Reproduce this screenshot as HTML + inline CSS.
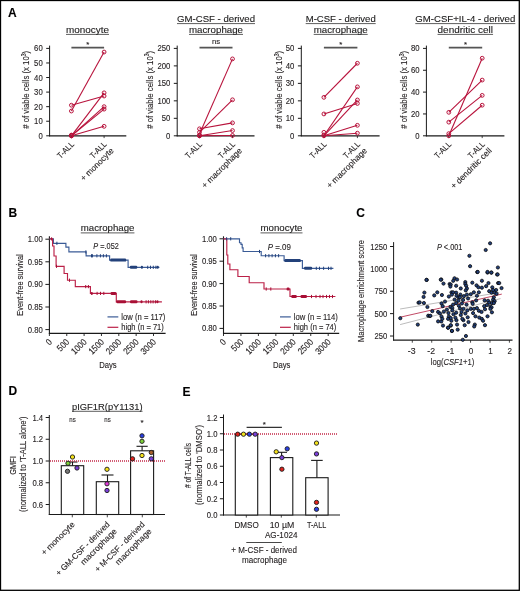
<!DOCTYPE html>
<html><head><meta charset="utf-8"><style>
html,body{margin:0;padding:0;background:#fff;width:520px;height:591px;overflow:hidden}
svg{display:block;will-change:transform}
text{font-family:"Liberation Sans", sans-serif;stroke:#231f20;stroke-width:0.12px}
</style></head><body>
<svg width="520" height="591" viewBox="0 0 520 591">
<rect width="520" height="591" fill="#fff"/>
<rect x="0.5" y="0.5" width="518.8" height="589.8" fill="none" stroke="#000" stroke-width="1.3"/>
<text x="8.00" y="16.80" font-size="12" text-anchor="start" fill="#000" font-weight="bold">A</text>
<text x="8.60" y="216.90" font-size="12" text-anchor="start" fill="#000" font-weight="bold">B</text>
<text x="356.30" y="216.90" font-size="12" text-anchor="start" fill="#000" font-weight="bold">C</text>
<text x="8.40" y="395.10" font-size="12" text-anchor="start" fill="#000" font-weight="bold">D</text>
<text x="182.50" y="395.50" font-size="12" text-anchor="start" fill="#000" font-weight="bold">E</text>
<line x1="49.60" y1="45.60" x2="49.60" y2="136.30" stroke="#1a1a1a" stroke-width="1"/>
<line x1="49.10" y1="135.80" x2="126.30" y2="135.80" stroke="#1a1a1a" stroke-width="1.35"/>
<line x1="46.20" y1="135.80" x2="49.60" y2="135.80" stroke="#1a1a1a" stroke-width="1"/>
<text x="42.70" y="138.80" font-size="8.4" text-anchor="end" fill="#231f20" textLength="4.3" lengthAdjust="spacingAndGlyphs">0</text>
<line x1="46.20" y1="121.23" x2="49.60" y2="121.23" stroke="#1a1a1a" stroke-width="1"/>
<text x="42.70" y="124.23" font-size="8.4" text-anchor="end" fill="#231f20" textLength="8.6" lengthAdjust="spacingAndGlyphs">10</text>
<line x1="46.20" y1="106.67" x2="49.60" y2="106.67" stroke="#1a1a1a" stroke-width="1"/>
<text x="42.70" y="109.67" font-size="8.4" text-anchor="end" fill="#231f20" textLength="8.6" lengthAdjust="spacingAndGlyphs">20</text>
<line x1="46.20" y1="92.10" x2="49.60" y2="92.10" stroke="#1a1a1a" stroke-width="1"/>
<text x="42.70" y="95.10" font-size="8.4" text-anchor="end" fill="#231f20" textLength="8.6" lengthAdjust="spacingAndGlyphs">30</text>
<line x1="46.20" y1="77.53" x2="49.60" y2="77.53" stroke="#1a1a1a" stroke-width="1"/>
<text x="42.70" y="80.53" font-size="8.4" text-anchor="end" fill="#231f20" textLength="8.6" lengthAdjust="spacingAndGlyphs">40</text>
<line x1="46.20" y1="62.97" x2="49.60" y2="62.97" stroke="#1a1a1a" stroke-width="1"/>
<text x="42.70" y="65.97" font-size="8.4" text-anchor="end" fill="#231f20" textLength="8.6" lengthAdjust="spacingAndGlyphs">50</text>
<line x1="46.20" y1="48.40" x2="49.60" y2="48.40" stroke="#1a1a1a" stroke-width="1"/>
<text x="42.70" y="51.40" font-size="8.4" text-anchor="end" fill="#231f20" textLength="8.6" lengthAdjust="spacingAndGlyphs">60</text>
<line x1="71.40" y1="135.80" x2="71.40" y2="138.10" stroke="#1a1a1a" stroke-width="0.8"/>
<line x1="104.10" y1="135.80" x2="104.10" y2="138.10" stroke="#1a1a1a" stroke-width="0.8"/>
<text transform="translate(29.10 89.80) rotate(-90)" font-size="9.8" text-anchor="middle" fill="#231f20" textLength="78" lengthAdjust="spacingAndGlyphs"># of viable cells (x 10<tspan font-size="6.5" dy="-3.5">3</tspan><tspan dy="3.5">)</tspan></text>
<line x1="71.40" y1="47.60" x2="104.10" y2="47.60" stroke="#555" stroke-width="1.7"/>
<text x="87.75" y="47.20" font-size="7.8" text-anchor="middle" fill="#231f20">*</text>
<line x1="71.40" y1="111.04" x2="104.10" y2="52.04" stroke="#b8133c" stroke-width="1.1"/>
<line x1="71.40" y1="105.21" x2="104.10" y2="96.03" stroke="#b8133c" stroke-width="1.1"/>
<line x1="71.40" y1="135.80" x2="104.10" y2="92.83" stroke="#b8133c" stroke-width="1.1"/>
<line x1="71.40" y1="135.80" x2="104.10" y2="106.67" stroke="#b8133c" stroke-width="1.1"/>
<line x1="71.40" y1="135.80" x2="104.10" y2="109.14" stroke="#b8133c" stroke-width="1.1"/>
<line x1="71.40" y1="135.80" x2="104.10" y2="126.33" stroke="#b8133c" stroke-width="1.1"/>
<circle cx="71.40" cy="105.21" r="1.9" fill="none" stroke="#b8133c" stroke-width="1"/>
<circle cx="71.40" cy="111.04" r="1.9" fill="none" stroke="#b8133c" stroke-width="1"/>
<circle cx="71.40" cy="135.36" r="1.9" fill="none" stroke="#b8133c" stroke-width="1"/>
<circle cx="71.40" cy="135.80" r="1.9" fill="none" stroke="#b8133c" stroke-width="1"/>
<circle cx="71.40" cy="135.80" r="1.9" fill="none" stroke="#b8133c" stroke-width="1"/>
<circle cx="71.40" cy="135.80" r="1.9" fill="none" stroke="#b8133c" stroke-width="1"/>
<circle cx="71.40" cy="135.07" r="1.9" fill="none" stroke="#b8133c" stroke-width="1"/>
<circle cx="104.10" cy="52.04" r="1.9" fill="none" stroke="#b8133c" stroke-width="1"/>
<circle cx="104.10" cy="92.83" r="1.9" fill="none" stroke="#b8133c" stroke-width="1"/>
<circle cx="104.10" cy="96.03" r="1.9" fill="none" stroke="#b8133c" stroke-width="1"/>
<circle cx="104.10" cy="106.67" r="1.9" fill="none" stroke="#b8133c" stroke-width="1"/>
<circle cx="104.10" cy="109.14" r="1.9" fill="none" stroke="#b8133c" stroke-width="1"/>
<circle cx="104.10" cy="126.33" r="1.9" fill="none" stroke="#b8133c" stroke-width="1"/>
<text x="74.60" y="144.90" font-size="8.4" text-anchor="end" fill="#231f20" textLength="20" lengthAdjust="spacingAndGlyphs" transform="rotate(-45 74.60 144.90)">T-ALL</text>
<text x="107.30" y="144.90" font-size="8.4" text-anchor="end" fill="#231f20" textLength="20" lengthAdjust="spacingAndGlyphs" transform="rotate(-45 107.30 144.90)">T-ALL</text>
<text x="114.18" y="151.18" font-size="8.4" text-anchor="end" fill="#231f20" textLength="43" lengthAdjust="spacingAndGlyphs" transform="rotate(-45 114.18 151.18)">+ monocyte</text>
<text x="87.50" y="32.80" font-size="9.8" text-anchor="middle" fill="#1a1a1a" textLength="43" lengthAdjust="spacingAndGlyphs">monocyte</text>
<line x1="66.00" y1="34.40" x2="109.00" y2="34.40" stroke="#333" stroke-width="0.8"/>
<line x1="177.20" y1="45.60" x2="177.20" y2="136.30" stroke="#1a1a1a" stroke-width="1"/>
<line x1="176.70" y1="135.80" x2="254.50" y2="135.80" stroke="#1a1a1a" stroke-width="1.35"/>
<line x1="173.80" y1="135.80" x2="177.20" y2="135.80" stroke="#1a1a1a" stroke-width="1"/>
<text x="170.30" y="138.80" font-size="8.4" text-anchor="end" fill="#231f20" textLength="4.3" lengthAdjust="spacingAndGlyphs">0</text>
<line x1="173.80" y1="118.32" x2="177.20" y2="118.32" stroke="#1a1a1a" stroke-width="1"/>
<text x="170.30" y="121.32" font-size="8.4" text-anchor="end" fill="#231f20" textLength="8.6" lengthAdjust="spacingAndGlyphs">50</text>
<line x1="173.80" y1="100.84" x2="177.20" y2="100.84" stroke="#1a1a1a" stroke-width="1"/>
<text x="170.30" y="103.84" font-size="8.4" text-anchor="end" fill="#231f20" textLength="12.9" lengthAdjust="spacingAndGlyphs">100</text>
<line x1="173.80" y1="83.36" x2="177.20" y2="83.36" stroke="#1a1a1a" stroke-width="1"/>
<text x="170.30" y="86.36" font-size="8.4" text-anchor="end" fill="#231f20" textLength="12.9" lengthAdjust="spacingAndGlyphs">150</text>
<line x1="173.80" y1="65.88" x2="177.20" y2="65.88" stroke="#1a1a1a" stroke-width="1"/>
<text x="170.30" y="68.88" font-size="8.4" text-anchor="end" fill="#231f20" textLength="12.9" lengthAdjust="spacingAndGlyphs">200</text>
<line x1="173.80" y1="48.40" x2="177.20" y2="48.40" stroke="#1a1a1a" stroke-width="1"/>
<text x="170.30" y="51.40" font-size="8.4" text-anchor="end" fill="#231f20" textLength="12.9" lengthAdjust="spacingAndGlyphs">250</text>
<line x1="199.50" y1="135.80" x2="199.50" y2="138.10" stroke="#1a1a1a" stroke-width="0.8"/>
<line x1="232.50" y1="135.80" x2="232.50" y2="138.10" stroke="#1a1a1a" stroke-width="0.8"/>
<text transform="translate(152.70 89.80) rotate(-90)" font-size="9.8" text-anchor="middle" fill="#231f20" textLength="78" lengthAdjust="spacingAndGlyphs"># of viable cells (x 10<tspan font-size="6.5" dy="-3.5">3</tspan><tspan dy="3.5">)</tspan></text>
<line x1="199.50" y1="47.60" x2="232.50" y2="47.60" stroke="#555" stroke-width="1.7"/>
<text x="216.00" y="44.40" font-size="7.8" text-anchor="middle" fill="#231f20">ns</text>
<line x1="199.50" y1="134.05" x2="232.50" y2="58.89" stroke="#b8133c" stroke-width="1.1"/>
<line x1="199.50" y1="132.30" x2="232.50" y2="99.79" stroke="#b8133c" stroke-width="1.1"/>
<line x1="199.50" y1="128.81" x2="232.50" y2="122.86" stroke="#b8133c" stroke-width="1.1"/>
<line x1="199.50" y1="135.80" x2="232.50" y2="130.56" stroke="#b8133c" stroke-width="1.1"/>
<line x1="199.50" y1="135.80" x2="232.50" y2="135.45" stroke="#b8133c" stroke-width="1.1"/>
<circle cx="199.50" cy="128.81" r="1.9" fill="none" stroke="#b8133c" stroke-width="1"/>
<circle cx="199.50" cy="132.30" r="1.9" fill="none" stroke="#b8133c" stroke-width="1"/>
<circle cx="199.50" cy="135.10" r="1.9" fill="none" stroke="#b8133c" stroke-width="1"/>
<circle cx="199.50" cy="135.80" r="1.9" fill="none" stroke="#b8133c" stroke-width="1"/>
<circle cx="199.50" cy="135.80" r="1.9" fill="none" stroke="#b8133c" stroke-width="1"/>
<circle cx="232.50" cy="58.89" r="1.9" fill="none" stroke="#b8133c" stroke-width="1"/>
<circle cx="232.50" cy="99.79" r="1.9" fill="none" stroke="#b8133c" stroke-width="1"/>
<circle cx="232.50" cy="122.86" r="1.9" fill="none" stroke="#b8133c" stroke-width="1"/>
<circle cx="232.50" cy="130.56" r="1.9" fill="none" stroke="#b8133c" stroke-width="1"/>
<circle cx="232.50" cy="135.45" r="1.9" fill="none" stroke="#b8133c" stroke-width="1"/>
<text x="202.70" y="144.90" font-size="8.4" text-anchor="end" fill="#231f20" textLength="20" lengthAdjust="spacingAndGlyphs" transform="rotate(-45 202.70 144.90)">T-ALL</text>
<text x="235.70" y="144.90" font-size="8.4" text-anchor="end" fill="#231f20" textLength="20" lengthAdjust="spacingAndGlyphs" transform="rotate(-45 235.70 144.90)">T-ALL</text>
<text x="242.58" y="151.18" font-size="8.4" text-anchor="end" fill="#231f20" textLength="53" lengthAdjust="spacingAndGlyphs" transform="rotate(-45 242.58 151.18)">+ macrophage</text>
<text x="216.00" y="22.00" font-size="9.8" text-anchor="middle" fill="#1a1a1a" textLength="78" lengthAdjust="spacingAndGlyphs">GM-CSF - derived</text>
<line x1="177.00" y1="23.60" x2="255.00" y2="23.60" stroke="#333" stroke-width="0.8"/>
<text x="216.00" y="32.80" font-size="9.8" text-anchor="middle" fill="#1a1a1a" textLength="54" lengthAdjust="spacingAndGlyphs">macrophage</text>
<line x1="189.00" y1="34.40" x2="243.00" y2="34.40" stroke="#333" stroke-width="0.8"/>
<line x1="301.30" y1="45.60" x2="301.30" y2="136.30" stroke="#1a1a1a" stroke-width="1"/>
<line x1="300.80" y1="135.80" x2="379.60" y2="135.80" stroke="#1a1a1a" stroke-width="1.35"/>
<line x1="297.90" y1="135.80" x2="301.30" y2="135.80" stroke="#1a1a1a" stroke-width="1"/>
<text x="294.40" y="138.80" font-size="8.4" text-anchor="end" fill="#231f20" textLength="4.3" lengthAdjust="spacingAndGlyphs">0</text>
<line x1="297.90" y1="118.32" x2="301.30" y2="118.32" stroke="#1a1a1a" stroke-width="1"/>
<text x="294.40" y="121.32" font-size="8.4" text-anchor="end" fill="#231f20" textLength="8.6" lengthAdjust="spacingAndGlyphs">10</text>
<line x1="297.90" y1="100.84" x2="301.30" y2="100.84" stroke="#1a1a1a" stroke-width="1"/>
<text x="294.40" y="103.84" font-size="8.4" text-anchor="end" fill="#231f20" textLength="8.6" lengthAdjust="spacingAndGlyphs">20</text>
<line x1="297.90" y1="83.36" x2="301.30" y2="83.36" stroke="#1a1a1a" stroke-width="1"/>
<text x="294.40" y="86.36" font-size="8.4" text-anchor="end" fill="#231f20" textLength="8.6" lengthAdjust="spacingAndGlyphs">30</text>
<line x1="297.90" y1="65.88" x2="301.30" y2="65.88" stroke="#1a1a1a" stroke-width="1"/>
<text x="294.40" y="68.88" font-size="8.4" text-anchor="end" fill="#231f20" textLength="8.6" lengthAdjust="spacingAndGlyphs">40</text>
<line x1="297.90" y1="48.40" x2="301.30" y2="48.40" stroke="#1a1a1a" stroke-width="1"/>
<text x="294.40" y="51.40" font-size="8.4" text-anchor="end" fill="#231f20" textLength="8.6" lengthAdjust="spacingAndGlyphs">50</text>
<line x1="323.90" y1="135.80" x2="323.90" y2="138.10" stroke="#1a1a1a" stroke-width="0.8"/>
<line x1="357.40" y1="135.80" x2="357.40" y2="138.10" stroke="#1a1a1a" stroke-width="0.8"/>
<text transform="translate(282.10 89.80) rotate(-90)" font-size="9.8" text-anchor="middle" fill="#231f20" textLength="78" lengthAdjust="spacingAndGlyphs"># of viable cells (x 10<tspan font-size="6.5" dy="-3.5">3</tspan><tspan dy="3.5">)</tspan></text>
<line x1="323.90" y1="47.60" x2="357.40" y2="47.60" stroke="#555" stroke-width="1.7"/>
<text x="340.65" y="47.20" font-size="7.8" text-anchor="middle" fill="#231f20">*</text>
<line x1="323.90" y1="97.34" x2="357.40" y2="63.26" stroke="#b8133c" stroke-width="1.1"/>
<line x1="323.90" y1="113.95" x2="357.40" y2="103.46" stroke="#b8133c" stroke-width="1.1"/>
<line x1="323.90" y1="135.80" x2="357.40" y2="86.86" stroke="#b8133c" stroke-width="1.1"/>
<line x1="323.90" y1="135.80" x2="357.40" y2="99.97" stroke="#b8133c" stroke-width="1.1"/>
<line x1="323.90" y1="135.80" x2="357.40" y2="125.31" stroke="#b8133c" stroke-width="1.1"/>
<line x1="323.90" y1="135.80" x2="357.40" y2="133.18" stroke="#b8133c" stroke-width="1.1"/>
<circle cx="323.90" cy="97.34" r="1.9" fill="none" stroke="#b8133c" stroke-width="1"/>
<circle cx="323.90" cy="113.95" r="1.9" fill="none" stroke="#b8133c" stroke-width="1"/>
<circle cx="323.90" cy="132.30" r="1.9" fill="none" stroke="#b8133c" stroke-width="1"/>
<circle cx="323.90" cy="134.93" r="1.9" fill="none" stroke="#b8133c" stroke-width="1"/>
<circle cx="323.90" cy="135.80" r="1.9" fill="none" stroke="#b8133c" stroke-width="1"/>
<circle cx="357.40" cy="63.26" r="1.9" fill="none" stroke="#b8133c" stroke-width="1"/>
<circle cx="357.40" cy="86.86" r="1.9" fill="none" stroke="#b8133c" stroke-width="1"/>
<circle cx="357.40" cy="99.97" r="1.9" fill="none" stroke="#b8133c" stroke-width="1"/>
<circle cx="357.40" cy="103.46" r="1.9" fill="none" stroke="#b8133c" stroke-width="1"/>
<circle cx="357.40" cy="125.31" r="1.9" fill="none" stroke="#b8133c" stroke-width="1"/>
<circle cx="357.40" cy="133.18" r="1.9" fill="none" stroke="#b8133c" stroke-width="1"/>
<text x="327.10" y="144.90" font-size="8.4" text-anchor="end" fill="#231f20" textLength="20" lengthAdjust="spacingAndGlyphs" transform="rotate(-45 327.10 144.90)">T-ALL</text>
<text x="360.60" y="144.90" font-size="8.4" text-anchor="end" fill="#231f20" textLength="20" lengthAdjust="spacingAndGlyphs" transform="rotate(-45 360.60 144.90)">T-ALL</text>
<text x="367.48" y="151.18" font-size="8.4" text-anchor="end" fill="#231f20" textLength="53" lengthAdjust="spacingAndGlyphs" transform="rotate(-45 367.48 151.18)">+ macrophage</text>
<text x="340.70" y="22.00" font-size="9.8" text-anchor="middle" fill="#1a1a1a" textLength="70" lengthAdjust="spacingAndGlyphs">M-CSF - derived</text>
<line x1="305.70" y1="23.60" x2="375.70" y2="23.60" stroke="#333" stroke-width="0.8"/>
<text x="340.70" y="32.80" font-size="9.8" text-anchor="middle" fill="#1a1a1a" textLength="54" lengthAdjust="spacingAndGlyphs">macrophage</text>
<line x1="313.70" y1="34.40" x2="367.70" y2="34.40" stroke="#333" stroke-width="0.8"/>
<line x1="426.40" y1="45.60" x2="426.40" y2="136.30" stroke="#1a1a1a" stroke-width="1"/>
<line x1="425.90" y1="135.80" x2="504.40" y2="135.80" stroke="#1a1a1a" stroke-width="1.35"/>
<line x1="423.00" y1="135.80" x2="426.40" y2="135.80" stroke="#1a1a1a" stroke-width="1"/>
<text x="419.50" y="138.80" font-size="8.4" text-anchor="end" fill="#231f20" textLength="4.3" lengthAdjust="spacingAndGlyphs">0</text>
<line x1="423.00" y1="113.95" x2="426.40" y2="113.95" stroke="#1a1a1a" stroke-width="1"/>
<text x="419.50" y="116.95" font-size="8.4" text-anchor="end" fill="#231f20" textLength="8.6" lengthAdjust="spacingAndGlyphs">20</text>
<line x1="423.00" y1="92.10" x2="426.40" y2="92.10" stroke="#1a1a1a" stroke-width="1"/>
<text x="419.50" y="95.10" font-size="8.4" text-anchor="end" fill="#231f20" textLength="8.6" lengthAdjust="spacingAndGlyphs">40</text>
<line x1="423.00" y1="70.25" x2="426.40" y2="70.25" stroke="#1a1a1a" stroke-width="1"/>
<text x="419.50" y="73.25" font-size="8.4" text-anchor="end" fill="#231f20" textLength="8.6" lengthAdjust="spacingAndGlyphs">60</text>
<line x1="423.00" y1="48.40" x2="426.40" y2="48.40" stroke="#1a1a1a" stroke-width="1"/>
<text x="419.50" y="51.40" font-size="8.4" text-anchor="end" fill="#231f20" textLength="8.6" lengthAdjust="spacingAndGlyphs">80</text>
<line x1="448.80" y1="135.80" x2="448.80" y2="138.10" stroke="#1a1a1a" stroke-width="0.8"/>
<line x1="482.20" y1="135.80" x2="482.20" y2="138.10" stroke="#1a1a1a" stroke-width="0.8"/>
<text transform="translate(407.30 89.80) rotate(-90)" font-size="9.8" text-anchor="middle" fill="#231f20" textLength="78" lengthAdjust="spacingAndGlyphs"># of viable cells (x 10<tspan font-size="6.5" dy="-3.5">3</tspan><tspan dy="3.5">)</tspan></text>
<line x1="448.80" y1="47.60" x2="482.20" y2="47.60" stroke="#555" stroke-width="1.7"/>
<text x="465.50" y="47.20" font-size="7.8" text-anchor="middle" fill="#231f20">*</text>
<line x1="448.80" y1="135.80" x2="482.20" y2="58.23" stroke="#b8133c" stroke-width="1.1"/>
<line x1="448.80" y1="112.31" x2="482.20" y2="80.08" stroke="#b8133c" stroke-width="1.1"/>
<line x1="448.80" y1="122.14" x2="482.20" y2="95.38" stroke="#b8133c" stroke-width="1.1"/>
<line x1="448.80" y1="133.62" x2="482.20" y2="105.21" stroke="#b8133c" stroke-width="1.1"/>
<circle cx="448.80" cy="112.31" r="1.9" fill="none" stroke="#b8133c" stroke-width="1"/>
<circle cx="448.80" cy="122.14" r="1.9" fill="none" stroke="#b8133c" stroke-width="1"/>
<circle cx="448.80" cy="133.62" r="1.9" fill="none" stroke="#b8133c" stroke-width="1"/>
<circle cx="448.80" cy="135.80" r="1.9" fill="none" stroke="#b8133c" stroke-width="1"/>
<circle cx="482.20" cy="58.23" r="1.9" fill="none" stroke="#b8133c" stroke-width="1"/>
<circle cx="482.20" cy="80.08" r="1.9" fill="none" stroke="#b8133c" stroke-width="1"/>
<circle cx="482.20" cy="95.38" r="1.9" fill="none" stroke="#b8133c" stroke-width="1"/>
<circle cx="482.20" cy="105.21" r="1.9" fill="none" stroke="#b8133c" stroke-width="1"/>
<text x="452.00" y="144.90" font-size="8.4" text-anchor="end" fill="#231f20" textLength="20" lengthAdjust="spacingAndGlyphs" transform="rotate(-45 452.00 144.90)">T-ALL</text>
<text x="485.40" y="144.90" font-size="8.4" text-anchor="end" fill="#231f20" textLength="20" lengthAdjust="spacingAndGlyphs" transform="rotate(-45 485.40 144.90)">T-ALL</text>
<text x="492.28" y="151.18" font-size="8.4" text-anchor="end" fill="#231f20" textLength="54" lengthAdjust="spacingAndGlyphs" transform="rotate(-45 492.28 151.18)">+ dendritic cell</text>
<text x="465.30" y="22.00" font-size="9.8" text-anchor="middle" fill="#1a1a1a" textLength="100" lengthAdjust="spacingAndGlyphs">GM-CSF+IL-4 - derived</text>
<line x1="415.30" y1="23.60" x2="515.30" y2="23.60" stroke="#333" stroke-width="0.8"/>
<text x="465.30" y="32.80" font-size="9.8" text-anchor="middle" fill="#1a1a1a" textLength="55.5" lengthAdjust="spacingAndGlyphs">dendritic cell</text>
<line x1="437.55" y1="34.40" x2="493.05" y2="34.40" stroke="#333" stroke-width="0.8"/>
<line x1="49.40" y1="236.30" x2="49.40" y2="333.90" stroke="#1a1a1a" stroke-width="1.1"/>
<line x1="48.90" y1="333.40" x2="165.60" y2="333.40" stroke="#1a1a1a" stroke-width="1.2"/>
<line x1="45.40" y1="239.20" x2="49.40" y2="239.20" stroke="#1a1a1a" stroke-width="1"/>
<text x="42.80" y="242.10" font-size="8.4" text-anchor="end" fill="#231f20" textLength="15.0" lengthAdjust="spacingAndGlyphs">1.00</text>
<line x1="45.40" y1="261.80" x2="49.40" y2="261.80" stroke="#1a1a1a" stroke-width="1"/>
<text x="42.80" y="264.70" font-size="8.4" text-anchor="end" fill="#231f20" textLength="15.0" lengthAdjust="spacingAndGlyphs">0.95</text>
<line x1="45.40" y1="284.40" x2="49.40" y2="284.40" stroke="#1a1a1a" stroke-width="1"/>
<text x="42.80" y="287.30" font-size="8.4" text-anchor="end" fill="#231f20" textLength="15.0" lengthAdjust="spacingAndGlyphs">0.90</text>
<line x1="45.40" y1="307.00" x2="49.40" y2="307.00" stroke="#1a1a1a" stroke-width="1"/>
<text x="42.80" y="309.90" font-size="8.4" text-anchor="end" fill="#231f20" textLength="15.0" lengthAdjust="spacingAndGlyphs">0.85</text>
<line x1="45.40" y1="329.60" x2="49.40" y2="329.60" stroke="#1a1a1a" stroke-width="1"/>
<text x="42.80" y="332.50" font-size="8.4" text-anchor="end" fill="#231f20" textLength="15.0" lengthAdjust="spacingAndGlyphs">0.80</text>
<line x1="49.40" y1="333.40" x2="49.40" y2="336.00" stroke="#1a1a1a" stroke-width="0.9"/>
<text x="52.60" y="342.60" font-size="9.2" text-anchor="end" fill="#231f20" textLength="4.4" lengthAdjust="spacingAndGlyphs" transform="rotate(-45 52.60 342.60)">0</text>
<line x1="66.75" y1="333.40" x2="66.75" y2="336.00" stroke="#1a1a1a" stroke-width="0.9"/>
<text x="69.95" y="342.60" font-size="9.2" text-anchor="end" fill="#231f20" textLength="13.2" lengthAdjust="spacingAndGlyphs" transform="rotate(-45 69.95 342.60)">500</text>
<line x1="84.10" y1="333.40" x2="84.10" y2="336.00" stroke="#1a1a1a" stroke-width="0.9"/>
<text x="87.30" y="342.60" font-size="9.2" text-anchor="end" fill="#231f20" textLength="17.6" lengthAdjust="spacingAndGlyphs" transform="rotate(-45 87.30 342.60)">1000</text>
<line x1="101.45" y1="333.40" x2="101.45" y2="336.00" stroke="#1a1a1a" stroke-width="0.9"/>
<text x="104.65" y="342.60" font-size="9.2" text-anchor="end" fill="#231f20" textLength="17.6" lengthAdjust="spacingAndGlyphs" transform="rotate(-45 104.65 342.60)">1500</text>
<line x1="118.80" y1="333.40" x2="118.80" y2="336.00" stroke="#1a1a1a" stroke-width="0.9"/>
<text x="122.00" y="342.60" font-size="9.2" text-anchor="end" fill="#231f20" textLength="17.6" lengthAdjust="spacingAndGlyphs" transform="rotate(-45 122.00 342.60)">2000</text>
<line x1="136.15" y1="333.40" x2="136.15" y2="336.00" stroke="#1a1a1a" stroke-width="0.9"/>
<text x="139.35" y="342.60" font-size="9.2" text-anchor="end" fill="#231f20" textLength="17.6" lengthAdjust="spacingAndGlyphs" transform="rotate(-45 139.35 342.60)">2500</text>
<line x1="153.50" y1="333.40" x2="153.50" y2="336.00" stroke="#1a1a1a" stroke-width="0.9"/>
<text x="156.70" y="342.60" font-size="9.2" text-anchor="end" fill="#231f20" textLength="17.6" lengthAdjust="spacingAndGlyphs" transform="rotate(-45 156.70 342.60)">3000</text>
<text x="107.90" y="367.60" font-size="8.8" text-anchor="middle" fill="#231f20" textLength="17.5" lengthAdjust="spacingAndGlyphs">Days</text>
<text transform="translate(22.80 285) rotate(-90)" font-size="9" text-anchor="middle" fill="#231f20" textLength="61.5" lengthAdjust="spacingAndGlyphs">Event-free survival</text>
<path d="M49.6,238.9 H53.4 V243.3 H65.9 V247.1 H68.9 V251.9 H86.1 V255.8 H109.6 V260.1 H128.1 V267.3 H159.4" fill="none" stroke="#3a5b96" stroke-width="1.15"/>
<path d="M49.6,238.9 H52.6 V246 H54 V256 H56.1 V266.3 H64.1 V273.5 H67.5 V280.2 H75.3 V286.6 H90.4 V293.4 H116.3 V301.8 H161.9" fill="none" stroke="#bb2047" stroke-width="1.15"/>
<rect x="56.40" y="241.70" width="1.0" height="3.2" fill="#23417a"/>
<rect x="85.40" y="250.30" width="1.0" height="3.2" fill="#23417a"/>
<rect x="91.00" y="254.20" width="1.0" height="3.2" fill="#23417a"/>
<rect x="91.90" y="254.20" width="1.0" height="3.2" fill="#23417a"/>
<rect x="96.40" y="254.20" width="1.0" height="3.2" fill="#23417a"/>
<rect x="99.90" y="254.20" width="1.0" height="3.2" fill="#23417a"/>
<rect x="102.90" y="254.20" width="1.0" height="3.2" fill="#23417a"/>
<rect x="105.90" y="254.20" width="1.0" height="3.2" fill="#23417a"/>
<rect x="110.20" y="258.60" width="16.00" height="3.0" rx="1.2" fill="#23417a"/>
<rect x="129.80" y="265.80" width="7.50" height="3.0" rx="1.2" fill="#23417a"/>
<rect x="140.80" y="265.80" width="2.20" height="3.0" rx="1.2" fill="#23417a"/>
<rect x="147.20" y="265.70" width="1.0" height="3.2" fill="#23417a"/>
<rect x="150.00" y="265.70" width="1.0" height="3.2" fill="#23417a"/>
<rect x="152.80" y="265.70" width="1.0" height="3.2" fill="#23417a"/>
<rect x="155.40" y="265.70" width="1.0" height="3.2" fill="#23417a"/>
<rect x="156.50" y="265.80" width="2.30" height="3.0" rx="1.2" fill="#23417a"/>
<rect x="51.10" y="237.30" width="1.0" height="3.2" fill="#a80f35"/>
<rect x="56.00" y="264.70" width="1.0" height="3.2" fill="#a80f35"/>
<rect x="69.00" y="278.60" width="1.0" height="3.2" fill="#a80f35"/>
<rect x="85.20" y="285.00" width="1.0" height="3.2" fill="#a80f35"/>
<rect x="87.90" y="285.00" width="1.0" height="3.2" fill="#a80f35"/>
<rect x="90.80" y="291.90" width="2.00" height="3.0" rx="1.2" fill="#a80f35"/>
<rect x="96.60" y="291.80" width="1.0" height="3.2" fill="#a80f35"/>
<rect x="100.00" y="291.80" width="1.0" height="3.2" fill="#a80f35"/>
<rect x="103.30" y="291.80" width="1.0" height="3.2" fill="#a80f35"/>
<rect x="110.60" y="291.90" width="5.70" height="3.0" rx="1.2" fill="#a80f35"/>
<rect x="116.30" y="300.30" width="9.80" height="3.0" rx="1.2" fill="#a80f35"/>
<rect x="130.00" y="300.30" width="7.50" height="3.0" rx="1.2" fill="#a80f35"/>
<rect x="140.40" y="300.30" width="2.20" height="3.0" rx="1.2" fill="#a80f35"/>
<rect x="145.60" y="300.20" width="1.0" height="3.2" fill="#a80f35"/>
<rect x="147.90" y="300.20" width="1.0" height="3.2" fill="#a80f35"/>
<rect x="150.30" y="300.20" width="1.0" height="3.2" fill="#a80f35"/>
<rect x="152.60" y="300.20" width="1.0" height="3.2" fill="#a80f35"/>
<rect x="154.90" y="300.20" width="1.0" height="3.2" fill="#a80f35"/>
<rect x="156.30" y="300.30" width="2.20" height="3.0" rx="1.2" fill="#a80f35"/>
<text x="107.60" y="231.00" font-size="9.8" text-anchor="middle" fill="#1a1a1a" textLength="53.7" lengthAdjust="spacingAndGlyphs">macrophage</text>
<line x1="80.75" y1="232.90" x2="134.45" y2="232.90" stroke="#333" stroke-width="0.8"/>
<text x="93.30" y="249.0" font-size="8.6" fill="#231f20" textLength="25.5" lengthAdjust="spacingAndGlyphs"><tspan font-style="italic">P</tspan> =.052</text>
<line x1="107.50" y1="316.90" x2="118.30" y2="316.90" stroke="#3a5b96" stroke-width="1.2"/>
<line x1="107.50" y1="327.30" x2="118.30" y2="327.30" stroke="#bb2047" stroke-width="1.2"/>
<text x="121.30" y="319.80" font-size="8.8" text-anchor="start" fill="#231f20" textLength="44" lengthAdjust="spacingAndGlyphs">low (n = 117)</text>
<text x="121.30" y="330.30" font-size="8.6" text-anchor="start" fill="#231f20" textLength="42.5" lengthAdjust="spacingAndGlyphs">high (n = 71)</text>
<line x1="223.50" y1="236.30" x2="223.50" y2="333.90" stroke="#1a1a1a" stroke-width="1.1"/>
<line x1="223.00" y1="333.40" x2="339.20" y2="333.40" stroke="#1a1a1a" stroke-width="1.2"/>
<line x1="219.50" y1="238.80" x2="223.50" y2="238.80" stroke="#1a1a1a" stroke-width="1"/>
<text x="216.90" y="241.70" font-size="8.4" text-anchor="end" fill="#231f20" textLength="15.0" lengthAdjust="spacingAndGlyphs">1.00</text>
<line x1="219.50" y1="261.20" x2="223.50" y2="261.20" stroke="#1a1a1a" stroke-width="1"/>
<text x="216.90" y="264.10" font-size="8.4" text-anchor="end" fill="#231f20" textLength="15.0" lengthAdjust="spacingAndGlyphs">0.95</text>
<line x1="219.50" y1="283.60" x2="223.50" y2="283.60" stroke="#1a1a1a" stroke-width="1"/>
<text x="216.90" y="286.50" font-size="8.4" text-anchor="end" fill="#231f20" textLength="15.0" lengthAdjust="spacingAndGlyphs">0.90</text>
<line x1="219.50" y1="306.00" x2="223.50" y2="306.00" stroke="#1a1a1a" stroke-width="1"/>
<text x="216.90" y="308.90" font-size="8.4" text-anchor="end" fill="#231f20" textLength="15.0" lengthAdjust="spacingAndGlyphs">0.85</text>
<line x1="219.50" y1="328.40" x2="223.50" y2="328.40" stroke="#1a1a1a" stroke-width="1"/>
<text x="216.90" y="331.30" font-size="8.4" text-anchor="end" fill="#231f20" textLength="15.0" lengthAdjust="spacingAndGlyphs">0.80</text>
<line x1="223.50" y1="333.40" x2="223.50" y2="336.00" stroke="#1a1a1a" stroke-width="0.9"/>
<text x="226.70" y="342.60" font-size="9.2" text-anchor="end" fill="#231f20" textLength="4.4" lengthAdjust="spacingAndGlyphs" transform="rotate(-45 226.70 342.60)">0</text>
<line x1="240.95" y1="333.40" x2="240.95" y2="336.00" stroke="#1a1a1a" stroke-width="0.9"/>
<text x="244.15" y="342.60" font-size="9.2" text-anchor="end" fill="#231f20" textLength="13.2" lengthAdjust="spacingAndGlyphs" transform="rotate(-45 244.15 342.60)">500</text>
<line x1="258.40" y1="333.40" x2="258.40" y2="336.00" stroke="#1a1a1a" stroke-width="0.9"/>
<text x="261.60" y="342.60" font-size="9.2" text-anchor="end" fill="#231f20" textLength="17.6" lengthAdjust="spacingAndGlyphs" transform="rotate(-45 261.60 342.60)">1000</text>
<line x1="275.85" y1="333.40" x2="275.85" y2="336.00" stroke="#1a1a1a" stroke-width="0.9"/>
<text x="279.05" y="342.60" font-size="9.2" text-anchor="end" fill="#231f20" textLength="17.6" lengthAdjust="spacingAndGlyphs" transform="rotate(-45 279.05 342.60)">1500</text>
<line x1="293.30" y1="333.40" x2="293.30" y2="336.00" stroke="#1a1a1a" stroke-width="0.9"/>
<text x="296.50" y="342.60" font-size="9.2" text-anchor="end" fill="#231f20" textLength="17.6" lengthAdjust="spacingAndGlyphs" transform="rotate(-45 296.50 342.60)">2000</text>
<line x1="310.75" y1="333.40" x2="310.75" y2="336.00" stroke="#1a1a1a" stroke-width="0.9"/>
<text x="313.95" y="342.60" font-size="9.2" text-anchor="end" fill="#231f20" textLength="17.6" lengthAdjust="spacingAndGlyphs" transform="rotate(-45 313.95 342.60)">2500</text>
<line x1="328.20" y1="333.40" x2="328.20" y2="336.00" stroke="#1a1a1a" stroke-width="0.9"/>
<text x="331.40" y="342.60" font-size="9.2" text-anchor="end" fill="#231f20" textLength="17.6" lengthAdjust="spacingAndGlyphs" transform="rotate(-45 331.40 342.60)">3000</text>
<text x="281.70" y="367.60" font-size="8.8" text-anchor="middle" fill="#231f20" textLength="17.5" lengthAdjust="spacingAndGlyphs">Days</text>
<text transform="translate(196.80 285) rotate(-90)" font-size="9" text-anchor="middle" fill="#231f20" textLength="61.5" lengthAdjust="spacingAndGlyphs">Event-free survival</text>
<path d="M223.5,238.8 H239.5 V242.7 H241 V244.4 H242.2 V247.8 H243.1 V251.5 H261.2 V255.7 H284.1 V260.6 H302.4 V268.3 H333.4" fill="none" stroke="#3a5b96" stroke-width="1.15"/>
<path d="M223.5,238.8 H226.8 V255 H227.8 V264 H229.9 V269.7 H237.9 V276.5 H249.2 V282.7 H264 V289 H290 V296.5 H335.4" fill="none" stroke="#bb2047" stroke-width="1.15"/>
<rect x="226.10" y="237.20" width="1.0" height="3.2" fill="#23417a"/>
<rect x="230.20" y="237.20" width="1.0" height="3.2" fill="#23417a"/>
<rect x="259.00" y="249.90" width="1.0" height="3.2" fill="#23417a"/>
<rect x="265.10" y="254.10" width="1.0" height="3.2" fill="#23417a"/>
<rect x="268.40" y="254.10" width="1.0" height="3.2" fill="#23417a"/>
<rect x="271.60" y="254.10" width="1.0" height="3.2" fill="#23417a"/>
<rect x="274.90" y="254.10" width="1.0" height="3.2" fill="#23417a"/>
<rect x="278.10" y="254.10" width="1.0" height="3.2" fill="#23417a"/>
<rect x="284.40" y="259.10" width="16.40" height="3.0" rx="1.2" fill="#23417a"/>
<rect x="304.00" y="266.80" width="8.20" height="3.0" rx="1.2" fill="#23417a"/>
<rect x="315.80" y="266.70" width="1.0" height="3.2" fill="#23417a"/>
<rect x="319.00" y="266.70" width="1.0" height="3.2" fill="#23417a"/>
<rect x="323.10" y="266.70" width="1.0" height="3.2" fill="#23417a"/>
<rect x="328.00" y="266.70" width="1.0" height="3.2" fill="#23417a"/>
<rect x="330.50" y="266.70" width="1.0" height="3.2" fill="#23417a"/>
<rect x="265.70" y="287.40" width="1.0" height="3.2" fill="#a80f35"/>
<rect x="270.30" y="287.40" width="1.0" height="3.2" fill="#a80f35"/>
<rect x="286.60" y="287.50" width="3.00" height="3.0" rx="1.2" fill="#a80f35"/>
<rect x="291.20" y="295.00" width="5.60" height="3.0" rx="1.2" fill="#a80f35"/>
<rect x="300.50" y="295.00" width="6.50" height="3.0" rx="1.2" fill="#a80f35"/>
<rect x="311.00" y="294.90" width="1.0" height="3.2" fill="#a80f35"/>
<rect x="315.50" y="294.90" width="1.0" height="3.2" fill="#a80f35"/>
<rect x="319.50" y="294.90" width="1.0" height="3.2" fill="#a80f35"/>
<rect x="322.50" y="294.90" width="1.0" height="3.2" fill="#a80f35"/>
<rect x="326.00" y="294.90" width="1.0" height="3.2" fill="#a80f35"/>
<rect x="329.00" y="294.90" width="1.0" height="3.2" fill="#a80f35"/>
<rect x="332.00" y="294.90" width="1.0" height="3.2" fill="#a80f35"/>
<text x="281.50" y="231.00" font-size="9.8" text-anchor="middle" fill="#1a1a1a" textLength="42" lengthAdjust="spacingAndGlyphs">monocyte</text>
<line x1="260.50" y1="232.90" x2="302.50" y2="232.90" stroke="#333" stroke-width="0.8"/>
<text x="267.70" y="250.0" font-size="8.6" fill="#231f20" textLength="23.1" lengthAdjust="spacingAndGlyphs"><tspan font-style="italic">P</tspan> =.09</text>
<line x1="280.00" y1="316.90" x2="290.80" y2="316.90" stroke="#3a5b96" stroke-width="1.2"/>
<line x1="280.00" y1="327.30" x2="290.80" y2="327.30" stroke="#bb2047" stroke-width="1.2"/>
<text x="293.80" y="319.80" font-size="8.8" text-anchor="start" fill="#231f20" textLength="44" lengthAdjust="spacingAndGlyphs">low (n = 114)</text>
<text x="293.80" y="330.30" font-size="8.6" text-anchor="start" fill="#231f20" textLength="42.5" lengthAdjust="spacingAndGlyphs">high (n = 74)</text>
<line x1="393.60" y1="242.10" x2="393.60" y2="340.60" stroke="#1a1a1a" stroke-width="1"/>
<line x1="393.10" y1="340.10" x2="512.50" y2="340.10" stroke="#1a1a1a" stroke-width="1.1"/>
<line x1="390.00" y1="246.50" x2="393.60" y2="246.50" stroke="#1a1a1a" stroke-width="1"/>
<text x="387.20" y="249.50" font-size="8.6" text-anchor="end" fill="#231f20" textLength="17.0" lengthAdjust="spacingAndGlyphs">1250</text>
<line x1="390.00" y1="268.88" x2="393.60" y2="268.88" stroke="#1a1a1a" stroke-width="1"/>
<text x="387.20" y="271.88" font-size="8.6" text-anchor="end" fill="#231f20" textLength="17.0" lengthAdjust="spacingAndGlyphs">1000</text>
<line x1="390.00" y1="291.26" x2="393.60" y2="291.26" stroke="#1a1a1a" stroke-width="1"/>
<text x="387.20" y="294.26" font-size="8.6" text-anchor="end" fill="#231f20" textLength="12.75" lengthAdjust="spacingAndGlyphs">750</text>
<line x1="390.00" y1="313.64" x2="393.60" y2="313.64" stroke="#1a1a1a" stroke-width="1"/>
<text x="387.20" y="316.64" font-size="8.6" text-anchor="end" fill="#231f20" textLength="12.75" lengthAdjust="spacingAndGlyphs">500</text>
<line x1="390.00" y1="336.02" x2="393.60" y2="336.02" stroke="#1a1a1a" stroke-width="1"/>
<text x="387.20" y="339.02" font-size="8.6" text-anchor="end" fill="#231f20" textLength="12.75" lengthAdjust="spacingAndGlyphs">250</text>
<line x1="412.30" y1="340.10" x2="412.30" y2="342.70" stroke="#1a1a1a" stroke-width="0.8"/>
<text x="411.70" y="354.00" font-size="9" text-anchor="middle" fill="#231f20" textLength="7.8" lengthAdjust="spacingAndGlyphs">-3</text>
<line x1="431.72" y1="340.10" x2="431.72" y2="342.70" stroke="#1a1a1a" stroke-width="0.8"/>
<text x="431.12" y="354.00" font-size="9" text-anchor="middle" fill="#231f20" textLength="7.8" lengthAdjust="spacingAndGlyphs">-2</text>
<line x1="451.14" y1="340.10" x2="451.14" y2="342.70" stroke="#1a1a1a" stroke-width="0.8"/>
<text x="450.54" y="354.00" font-size="9" text-anchor="middle" fill="#231f20" textLength="7.8" lengthAdjust="spacingAndGlyphs">-1</text>
<line x1="470.56" y1="340.10" x2="470.56" y2="342.70" stroke="#1a1a1a" stroke-width="0.8"/>
<text x="470.96" y="354.00" font-size="9" text-anchor="middle" fill="#231f20" textLength="4.5" lengthAdjust="spacingAndGlyphs">0</text>
<line x1="489.98" y1="340.10" x2="489.98" y2="342.70" stroke="#1a1a1a" stroke-width="0.8"/>
<text x="490.38" y="354.00" font-size="9" text-anchor="middle" fill="#231f20" textLength="4.5" lengthAdjust="spacingAndGlyphs">1</text>
<line x1="509.40" y1="340.10" x2="509.40" y2="342.70" stroke="#1a1a1a" stroke-width="0.8"/>
<text x="509.80" y="354.00" font-size="9" text-anchor="middle" fill="#231f20" textLength="4.5" lengthAdjust="spacingAndGlyphs">2</text>
<text x="452.5" y="365.3" font-size="9.8" text-anchor="middle" fill="#231f20" textLength="43.6" lengthAdjust="spacingAndGlyphs">log(<tspan font-style="italic">CSF1</tspan>+1)</text>
<text transform="translate(363.9 291) rotate(-90)" font-size="9.2" text-anchor="middle" fill="#231f20" textLength="102" lengthAdjust="spacingAndGlyphs">Macrophage enrichment score</text>
<text x="436.9" y="249.6" font-size="8.6" fill="#231f20" textLength="25.5" lengthAdjust="spacingAndGlyphs"><tspan font-style="italic">P</tspan> &lt;.001</text>
<line x1="400.10" y1="309.00" x2="499.20" y2="292.60" stroke="#aaa" stroke-width="0.8"/>
<line x1="400.10" y1="324.60" x2="500.50" y2="298.60" stroke="#aaa" stroke-width="0.8"/>
<line x1="400.20" y1="317.20" x2="501.80" y2="294.10" stroke="#c24a66" stroke-width="1.0"/>
<circle cx="400.30" cy="318.20" r="1.6" fill="#22407c" stroke="#0a0a0a" stroke-width="0.8"/>
<circle cx="417.80" cy="324.60" r="1.6" fill="#22407c" stroke="#0a0a0a" stroke-width="0.8"/>
<circle cx="426.70" cy="279.90" r="1.6" fill="#22407c" stroke="#0a0a0a" stroke-width="0.8"/>
<circle cx="424.40" cy="292.60" r="1.6" fill="#22407c" stroke="#0a0a0a" stroke-width="0.8"/>
<circle cx="423.60" cy="296.90" r="1.6" fill="#22407c" stroke="#0a0a0a" stroke-width="0.8"/>
<circle cx="418.50" cy="302.70" r="1.6" fill="#22407c" stroke="#0a0a0a" stroke-width="0.8"/>
<circle cx="419.70" cy="302.40" r="1.6" fill="#22407c" stroke="#0a0a0a" stroke-width="0.8"/>
<circle cx="423.90" cy="303.00" r="1.6" fill="#22407c" stroke="#0a0a0a" stroke-width="0.8"/>
<circle cx="427.40" cy="307.00" r="1.6" fill="#22407c" stroke="#0a0a0a" stroke-width="0.8"/>
<circle cx="428.20" cy="315.70" r="1.6" fill="#22407c" stroke="#0a0a0a" stroke-width="0.8"/>
<circle cx="429.90" cy="316.00" r="1.6" fill="#22407c" stroke="#0a0a0a" stroke-width="0.8"/>
<circle cx="441.30" cy="279.50" r="1.6" fill="#22407c" stroke="#0a0a0a" stroke-width="0.8"/>
<circle cx="443.50" cy="283.60" r="1.6" fill="#22407c" stroke="#0a0a0a" stroke-width="0.8"/>
<circle cx="438.10" cy="321.40" r="1.6" fill="#22407c" stroke="#0a0a0a" stroke-width="0.8"/>
<circle cx="441.30" cy="321.40" r="1.6" fill="#22407c" stroke="#0a0a0a" stroke-width="0.8"/>
<circle cx="443.00" cy="325.60" r="1.6" fill="#22407c" stroke="#0a0a0a" stroke-width="0.8"/>
<circle cx="448.00" cy="327.70" r="1.6" fill="#22407c" stroke="#0a0a0a" stroke-width="0.8"/>
<circle cx="450.80" cy="325.60" r="1.6" fill="#22407c" stroke="#0a0a0a" stroke-width="0.8"/>
<circle cx="451.90" cy="330.90" r="1.6" fill="#22407c" stroke="#0a0a0a" stroke-width="0.8"/>
<circle cx="449.60" cy="284.00" r="1.6" fill="#22407c" stroke="#0a0a0a" stroke-width="0.8"/>
<circle cx="469.40" cy="255.80" r="1.6" fill="#22407c" stroke="#0a0a0a" stroke-width="0.8"/>
<circle cx="470.10" cy="266.20" r="1.6" fill="#22407c" stroke="#0a0a0a" stroke-width="0.8"/>
<circle cx="490.10" cy="243.30" r="1.6" fill="#22407c" stroke="#0a0a0a" stroke-width="0.8"/>
<circle cx="485.70" cy="250.00" r="1.6" fill="#22407c" stroke="#0a0a0a" stroke-width="0.8"/>
<circle cx="477.20" cy="272.10" r="1.6" fill="#22407c" stroke="#0a0a0a" stroke-width="0.8"/>
<circle cx="487.50" cy="272.60" r="1.6" fill="#22407c" stroke="#0a0a0a" stroke-width="0.8"/>
<circle cx="491.40" cy="272.60" r="1.6" fill="#22407c" stroke="#0a0a0a" stroke-width="0.8"/>
<circle cx="497.90" cy="267.50" r="1.6" fill="#22407c" stroke="#0a0a0a" stroke-width="0.8"/>
<circle cx="497.10" cy="274.50" r="1.6" fill="#22407c" stroke="#0a0a0a" stroke-width="0.8"/>
<circle cx="426.50" cy="279.90" r="1.6" fill="#22407c" stroke="#0a0a0a" stroke-width="0.8"/>
<circle cx="440.80" cy="279.70" r="1.6" fill="#22407c" stroke="#0a0a0a" stroke-width="0.8"/>
<circle cx="477.74" cy="271.90" r="1.6" fill="#22407c" stroke="#0a0a0a" stroke-width="0.8"/>
<circle cx="487.51" cy="271.90" r="1.6" fill="#22407c" stroke="#0a0a0a" stroke-width="0.8"/>
<circle cx="491.32" cy="272.54" r="1.6" fill="#22407c" stroke="#0a0a0a" stroke-width="0.8"/>
<circle cx="497.66" cy="274.44" r="1.6" fill="#22407c" stroke="#0a0a0a" stroke-width="0.8"/>
<circle cx="454.52" cy="278.25" r="1.6" fill="#22407c" stroke="#0a0a0a" stroke-width="0.8"/>
<circle cx="457.06" cy="279.52" r="1.6" fill="#22407c" stroke="#0a0a0a" stroke-width="0.8"/>
<circle cx="453.25" cy="280.79" r="1.6" fill="#22407c" stroke="#0a0a0a" stroke-width="0.8"/>
<circle cx="465.30" cy="282.06" r="1.6" fill="#22407c" stroke="#0a0a0a" stroke-width="0.8"/>
<circle cx="465.30" cy="283.96" r="1.6" fill="#22407c" stroke="#0a0a0a" stroke-width="0.8"/>
<circle cx="450.71" cy="284.59" r="1.6" fill="#22407c" stroke="#0a0a0a" stroke-width="0.8"/>
<circle cx="475.46" cy="316.32" r="1.6" fill="#22407c" stroke="#0a0a0a" stroke-width="0.8"/>
<circle cx="479.26" cy="317.59" r="1.6" fill="#22407c" stroke="#0a0a0a" stroke-width="0.8"/>
<circle cx="481.80" cy="318.86" r="1.6" fill="#22407c" stroke="#0a0a0a" stroke-width="0.8"/>
<circle cx="487.51" cy="316.32" r="1.6" fill="#22407c" stroke="#0a0a0a" stroke-width="0.8"/>
<circle cx="451.35" cy="320.76" r="1.6" fill="#22407c" stroke="#0a0a0a" stroke-width="0.8"/>
<circle cx="456.42" cy="320.13" r="1.6" fill="#22407c" stroke="#0a0a0a" stroke-width="0.8"/>
<circle cx="463.40" cy="320.13" r="1.6" fill="#22407c" stroke="#0a0a0a" stroke-width="0.8"/>
<circle cx="468.48" cy="322.03" r="1.6" fill="#22407c" stroke="#0a0a0a" stroke-width="0.8"/>
<circle cx="483.07" cy="320.76" r="1.6" fill="#22407c" stroke="#0a0a0a" stroke-width="0.8"/>
<circle cx="450.71" cy="325.20" r="1.6" fill="#22407c" stroke="#0a0a0a" stroke-width="0.8"/>
<circle cx="457.06" cy="324.57" r="1.6" fill="#22407c" stroke="#0a0a0a" stroke-width="0.8"/>
<circle cx="464.67" cy="325.20" r="1.6" fill="#22407c" stroke="#0a0a0a" stroke-width="0.8"/>
<circle cx="474.82" cy="324.57" r="1.6" fill="#22407c" stroke="#0a0a0a" stroke-width="0.8"/>
<circle cx="484.97" cy="325.20" r="1.6" fill="#22407c" stroke="#0a0a0a" stroke-width="0.8"/>
<circle cx="448.17" cy="327.74" r="1.6" fill="#22407c" stroke="#0a0a0a" stroke-width="0.8"/>
<circle cx="451.98" cy="330.91" r="1.6" fill="#22407c" stroke="#0a0a0a" stroke-width="0.8"/>
<circle cx="457.69" cy="329.64" r="1.6" fill="#22407c" stroke="#0a0a0a" stroke-width="0.8"/>
<circle cx="474.19" cy="326.47" r="1.6" fill="#22407c" stroke="#0a0a0a" stroke-width="0.8"/>
<circle cx="465.94" cy="335.99" r="1.6" fill="#22407c" stroke="#0a0a0a" stroke-width="0.8"/>
<circle cx="462.77" cy="339.80" r="1.6" fill="#22407c" stroke="#0a0a0a" stroke-width="0.8"/>
<circle cx="472.31" cy="282.69" r="1.6" fill="#22407c" stroke="#0a0a0a" stroke-width="0.8"/>
<circle cx="481.92" cy="280.77" r="1.6" fill="#22407c" stroke="#0a0a0a" stroke-width="0.8"/>
<circle cx="488.46" cy="283.08" r="1.6" fill="#22407c" stroke="#0a0a0a" stroke-width="0.8"/>
<circle cx="498.08" cy="283.08" r="1.6" fill="#22407c" stroke="#0a0a0a" stroke-width="0.8"/>
<circle cx="499.23" cy="283.08" r="1.6" fill="#22407c" stroke="#0a0a0a" stroke-width="0.8"/>
<circle cx="476.54" cy="285.38" r="1.6" fill="#22407c" stroke="#0a0a0a" stroke-width="0.8"/>
<circle cx="478.46" cy="287.31" r="1.6" fill="#22407c" stroke="#0a0a0a" stroke-width="0.8"/>
<circle cx="481.92" cy="287.69" r="1.6" fill="#22407c" stroke="#0a0a0a" stroke-width="0.8"/>
<circle cx="486.15" cy="286.15" r="1.6" fill="#22407c" stroke="#0a0a0a" stroke-width="0.8"/>
<circle cx="492.31" cy="287.31" r="1.6" fill="#22407c" stroke="#0a0a0a" stroke-width="0.8"/>
<circle cx="501.54" cy="288.08" r="1.6" fill="#22407c" stroke="#0a0a0a" stroke-width="0.8"/>
<circle cx="493.08" cy="290.00" r="1.6" fill="#22407c" stroke="#0a0a0a" stroke-width="0.8"/>
<circle cx="496.15" cy="290.00" r="1.6" fill="#22407c" stroke="#0a0a0a" stroke-width="0.8"/>
<circle cx="489.23" cy="291.15" r="1.6" fill="#22407c" stroke="#0a0a0a" stroke-width="0.8"/>
<circle cx="491.54" cy="292.69" r="1.6" fill="#22407c" stroke="#0a0a0a" stroke-width="0.8"/>
<circle cx="494.62" cy="292.69" r="1.6" fill="#22407c" stroke="#0a0a0a" stroke-width="0.8"/>
<circle cx="496.54" cy="293.85" r="1.6" fill="#22407c" stroke="#0a0a0a" stroke-width="0.8"/>
<circle cx="473.85" cy="292.31" r="1.6" fill="#22407c" stroke="#0a0a0a" stroke-width="0.8"/>
<circle cx="478.85" cy="292.31" r="1.6" fill="#22407c" stroke="#0a0a0a" stroke-width="0.8"/>
<circle cx="470.77" cy="294.23" r="1.6" fill="#22407c" stroke="#0a0a0a" stroke-width="0.8"/>
<circle cx="476.92" cy="295.77" r="1.6" fill="#22407c" stroke="#0a0a0a" stroke-width="0.8"/>
<circle cx="493.85" cy="297.31" r="1.6" fill="#22407c" stroke="#0a0a0a" stroke-width="0.8"/>
<circle cx="476.15" cy="300.38" r="1.6" fill="#22407c" stroke="#0a0a0a" stroke-width="0.8"/>
<circle cx="484.62" cy="300.38" r="1.6" fill="#22407c" stroke="#0a0a0a" stroke-width="0.8"/>
<circle cx="488.08" cy="300.77" r="1.6" fill="#22407c" stroke="#0a0a0a" stroke-width="0.8"/>
<circle cx="493.08" cy="299.62" r="1.6" fill="#22407c" stroke="#0a0a0a" stroke-width="0.8"/>
<circle cx="494.62" cy="301.15" r="1.6" fill="#22407c" stroke="#0a0a0a" stroke-width="0.8"/>
<circle cx="472.31" cy="302.31" r="1.6" fill="#22407c" stroke="#0a0a0a" stroke-width="0.8"/>
<circle cx="472.69" cy="303.85" r="1.6" fill="#22407c" stroke="#0a0a0a" stroke-width="0.8"/>
<circle cx="489.23" cy="302.69" r="1.6" fill="#22407c" stroke="#0a0a0a" stroke-width="0.8"/>
<circle cx="486.92" cy="305.00" r="1.6" fill="#22407c" stroke="#0a0a0a" stroke-width="0.8"/>
<circle cx="491.92" cy="303.08" r="1.6" fill="#22407c" stroke="#0a0a0a" stroke-width="0.8"/>
<circle cx="493.85" cy="303.08" r="1.6" fill="#22407c" stroke="#0a0a0a" stroke-width="0.8"/>
<circle cx="484.23" cy="306.15" r="1.6" fill="#22407c" stroke="#0a0a0a" stroke-width="0.8"/>
<circle cx="490.38" cy="306.54" r="1.6" fill="#22407c" stroke="#0a0a0a" stroke-width="0.8"/>
<circle cx="491.54" cy="307.31" r="1.6" fill="#22407c" stroke="#0a0a0a" stroke-width="0.8"/>
<circle cx="485.00" cy="309.23" r="1.6" fill="#22407c" stroke="#0a0a0a" stroke-width="0.8"/>
<circle cx="490.38" cy="308.85" r="1.6" fill="#22407c" stroke="#0a0a0a" stroke-width="0.8"/>
<circle cx="470.77" cy="308.85" r="1.6" fill="#22407c" stroke="#0a0a0a" stroke-width="0.8"/>
<circle cx="473.85" cy="308.85" r="1.6" fill="#22407c" stroke="#0a0a0a" stroke-width="0.8"/>
<circle cx="476.92" cy="308.08" r="1.6" fill="#22407c" stroke="#0a0a0a" stroke-width="0.8"/>
<circle cx="478.85" cy="310.77" r="1.6" fill="#22407c" stroke="#0a0a0a" stroke-width="0.8"/>
<circle cx="481.54" cy="311.92" r="1.6" fill="#22407c" stroke="#0a0a0a" stroke-width="0.8"/>
<circle cx="473.08" cy="313.08" r="1.6" fill="#22407c" stroke="#0a0a0a" stroke-width="0.8"/>
<circle cx="491.92" cy="312.31" r="1.6" fill="#22407c" stroke="#0a0a0a" stroke-width="0.8"/>
<circle cx="450.38" cy="286.54" r="1.6" fill="#22407c" stroke="#0a0a0a" stroke-width="0.8"/>
<circle cx="456.15" cy="285.77" r="1.6" fill="#22407c" stroke="#0a0a0a" stroke-width="0.8"/>
<circle cx="460.77" cy="288.46" r="1.6" fill="#22407c" stroke="#0a0a0a" stroke-width="0.8"/>
<circle cx="466.15" cy="285.77" r="1.6" fill="#22407c" stroke="#0a0a0a" stroke-width="0.8"/>
<circle cx="466.92" cy="288.46" r="1.6" fill="#22407c" stroke="#0a0a0a" stroke-width="0.8"/>
<circle cx="465.77" cy="290.38" r="1.6" fill="#22407c" stroke="#0a0a0a" stroke-width="0.8"/>
<circle cx="437.31" cy="292.31" r="1.6" fill="#22407c" stroke="#0a0a0a" stroke-width="0.8"/>
<circle cx="434.23" cy="295.38" r="1.6" fill="#22407c" stroke="#0a0a0a" stroke-width="0.8"/>
<circle cx="441.92" cy="295.00" r="1.6" fill="#22407c" stroke="#0a0a0a" stroke-width="0.8"/>
<circle cx="448.85" cy="296.54" r="1.6" fill="#22407c" stroke="#0a0a0a" stroke-width="0.8"/>
<circle cx="451.54" cy="292.31" r="1.6" fill="#22407c" stroke="#0a0a0a" stroke-width="0.8"/>
<circle cx="453.08" cy="292.31" r="1.6" fill="#22407c" stroke="#0a0a0a" stroke-width="0.8"/>
<circle cx="456.15" cy="292.69" r="1.6" fill="#22407c" stroke="#0a0a0a" stroke-width="0.8"/>
<circle cx="451.92" cy="294.62" r="1.6" fill="#22407c" stroke="#0a0a0a" stroke-width="0.8"/>
<circle cx="456.54" cy="295.77" r="1.6" fill="#22407c" stroke="#0a0a0a" stroke-width="0.8"/>
<circle cx="460.38" cy="294.62" r="1.6" fill="#22407c" stroke="#0a0a0a" stroke-width="0.8"/>
<circle cx="463.85" cy="296.15" r="1.6" fill="#22407c" stroke="#0a0a0a" stroke-width="0.8"/>
<circle cx="466.92" cy="294.62" r="1.6" fill="#22407c" stroke="#0a0a0a" stroke-width="0.8"/>
<circle cx="458.46" cy="297.31" r="1.6" fill="#22407c" stroke="#0a0a0a" stroke-width="0.8"/>
<circle cx="460.00" cy="297.31" r="1.6" fill="#22407c" stroke="#0a0a0a" stroke-width="0.8"/>
<circle cx="454.62" cy="299.62" r="1.6" fill="#22407c" stroke="#0a0a0a" stroke-width="0.8"/>
<circle cx="445.00" cy="301.54" r="1.6" fill="#22407c" stroke="#0a0a0a" stroke-width="0.8"/>
<circle cx="441.54" cy="303.46" r="1.6" fill="#22407c" stroke="#0a0a0a" stroke-width="0.8"/>
<circle cx="442.69" cy="306.15" r="1.6" fill="#22407c" stroke="#0a0a0a" stroke-width="0.8"/>
<circle cx="453.08" cy="304.62" r="1.6" fill="#22407c" stroke="#0a0a0a" stroke-width="0.8"/>
<circle cx="456.15" cy="303.08" r="1.6" fill="#22407c" stroke="#0a0a0a" stroke-width="0.8"/>
<circle cx="458.46" cy="300.77" r="1.6" fill="#22407c" stroke="#0a0a0a" stroke-width="0.8"/>
<circle cx="458.85" cy="305.77" r="1.6" fill="#22407c" stroke="#0a0a0a" stroke-width="0.8"/>
<circle cx="463.08" cy="300.00" r="1.6" fill="#22407c" stroke="#0a0a0a" stroke-width="0.8"/>
<circle cx="461.92" cy="303.46" r="1.6" fill="#22407c" stroke="#0a0a0a" stroke-width="0.8"/>
<circle cx="466.54" cy="304.62" r="1.6" fill="#22407c" stroke="#0a0a0a" stroke-width="0.8"/>
<circle cx="468.08" cy="298.46" r="1.6" fill="#22407c" stroke="#0a0a0a" stroke-width="0.8"/>
<circle cx="450.38" cy="306.92" r="1.6" fill="#22407c" stroke="#0a0a0a" stroke-width="0.8"/>
<circle cx="452.31" cy="308.08" r="1.6" fill="#22407c" stroke="#0a0a0a" stroke-width="0.8"/>
<circle cx="452.31" cy="310.38" r="1.6" fill="#22407c" stroke="#0a0a0a" stroke-width="0.8"/>
<circle cx="446.92" cy="309.62" r="1.6" fill="#22407c" stroke="#0a0a0a" stroke-width="0.8"/>
<circle cx="443.85" cy="311.54" r="1.6" fill="#22407c" stroke="#0a0a0a" stroke-width="0.8"/>
<circle cx="438.08" cy="311.92" r="1.6" fill="#22407c" stroke="#0a0a0a" stroke-width="0.8"/>
<circle cx="440.00" cy="313.46" r="1.6" fill="#22407c" stroke="#0a0a0a" stroke-width="0.8"/>
<circle cx="432.31" cy="311.15" r="1.6" fill="#22407c" stroke="#0a0a0a" stroke-width="0.8"/>
<circle cx="430.38" cy="315.77" r="1.6" fill="#22407c" stroke="#0a0a0a" stroke-width="0.8"/>
<circle cx="448.46" cy="313.08" r="1.6" fill="#22407c" stroke="#0a0a0a" stroke-width="0.8"/>
<circle cx="448.85" cy="316.54" r="1.6" fill="#22407c" stroke="#0a0a0a" stroke-width="0.8"/>
<circle cx="453.46" cy="314.23" r="1.6" fill="#22407c" stroke="#0a0a0a" stroke-width="0.8"/>
<circle cx="456.15" cy="312.69" r="1.6" fill="#22407c" stroke="#0a0a0a" stroke-width="0.8"/>
<circle cx="460.00" cy="308.46" r="1.6" fill="#22407c" stroke="#0a0a0a" stroke-width="0.8"/>
<circle cx="463.46" cy="308.85" r="1.6" fill="#22407c" stroke="#0a0a0a" stroke-width="0.8"/>
<circle cx="461.54" cy="311.92" r="1.6" fill="#22407c" stroke="#0a0a0a" stroke-width="0.8"/>
<circle cx="465.38" cy="313.46" r="1.6" fill="#22407c" stroke="#0a0a0a" stroke-width="0.8"/>
<circle cx="467.31" cy="310.38" r="1.6" fill="#22407c" stroke="#0a0a0a" stroke-width="0.8"/>
<circle cx="441.54" cy="316.54" r="1.6" fill="#22407c" stroke="#0a0a0a" stroke-width="0.8"/>
<circle cx="442.31" cy="318.85" r="1.6" fill="#22407c" stroke="#0a0a0a" stroke-width="0.8"/>
<circle cx="448.08" cy="318.85" r="1.6" fill="#22407c" stroke="#0a0a0a" stroke-width="0.8"/>
<circle cx="450.77" cy="318.08" r="1.6" fill="#22407c" stroke="#0a0a0a" stroke-width="0.8"/>
<circle cx="455.38" cy="317.69" r="1.6" fill="#22407c" stroke="#0a0a0a" stroke-width="0.8"/>
<circle cx="460.77" cy="315.00" r="1.6" fill="#22407c" stroke="#0a0a0a" stroke-width="0.8"/>
<circle cx="462.31" cy="318.85" r="1.6" fill="#22407c" stroke="#0a0a0a" stroke-width="0.8"/>
<circle cx="467.69" cy="317.31" r="1.6" fill="#22407c" stroke="#0a0a0a" stroke-width="0.8"/>
<line x1="49.30" y1="415.00" x2="49.30" y2="515.00" stroke="#1a1a1a" stroke-width="1"/>
<line x1="48.80" y1="514.50" x2="165.00" y2="514.50" stroke="#1a1a1a" stroke-width="1.1"/>
<line x1="45.70" y1="417.50" x2="49.30" y2="417.50" stroke="#1a1a1a" stroke-width="1"/>
<text x="43.10" y="420.50" font-size="8.4" text-anchor="end" fill="#231f20" textLength="10.7" lengthAdjust="spacingAndGlyphs">1.4</text>
<line x1="45.70" y1="439.25" x2="49.30" y2="439.25" stroke="#1a1a1a" stroke-width="1"/>
<text x="43.10" y="442.25" font-size="8.4" text-anchor="end" fill="#231f20" textLength="10.7" lengthAdjust="spacingAndGlyphs">1.2</text>
<line x1="45.70" y1="461.00" x2="49.30" y2="461.00" stroke="#1a1a1a" stroke-width="1"/>
<text x="43.10" y="464.00" font-size="8.4" text-anchor="end" fill="#231f20" textLength="10.7" lengthAdjust="spacingAndGlyphs">1.0</text>
<line x1="45.70" y1="482.75" x2="49.30" y2="482.75" stroke="#1a1a1a" stroke-width="1"/>
<text x="43.10" y="485.75" font-size="8.4" text-anchor="end" fill="#231f20" textLength="10.7" lengthAdjust="spacingAndGlyphs">0.8</text>
<line x1="45.70" y1="504.50" x2="49.30" y2="504.50" stroke="#1a1a1a" stroke-width="1"/>
<text x="43.10" y="507.50" font-size="8.4" text-anchor="end" fill="#231f20" textLength="10.7" lengthAdjust="spacingAndGlyphs">0.6</text>
<text x="15.60" y="465.40" font-size="9.2" text-anchor="middle" fill="#231f20" textLength="18.7" lengthAdjust="spacingAndGlyphs" transform="rotate(-90 15.60 465.40)">GMFI</text>
<text x="26.00" y="464.30" font-size="9.0" text-anchor="middle" fill="#231f20" textLength="95.5" lengthAdjust="spacingAndGlyphs" transform="rotate(-90 26.00 464.30)">(normalized to 'T-ALL alone')</text>
<rect x="61.3" y="465.7" width="22.40" height="48.80" fill="#fff" stroke="#1a1a1a" stroke-width="1.1"/>
<rect x="96.3" y="481.7" width="22.40" height="32.80" fill="#fff" stroke="#1a1a1a" stroke-width="1.1"/>
<rect x="130.6" y="450.8" width="23.00" height="63.70" fill="#fff" stroke="#1a1a1a" stroke-width="1.1"/>
<line x1="72.50" y1="465.70" x2="72.50" y2="462.00" stroke="#1a1a1a" stroke-width="1.1"/>
<line x1="67.50" y1="462.00" x2="77.50" y2="462.00" stroke="#1a1a1a" stroke-width="1.1"/>
<line x1="107.50" y1="481.70" x2="107.50" y2="475.00" stroke="#1a1a1a" stroke-width="1.1"/>
<line x1="101.50" y1="475.00" x2="113.50" y2="475.00" stroke="#1a1a1a" stroke-width="1.1"/>
<line x1="142.10" y1="450.80" x2="142.10" y2="446.30" stroke="#1a1a1a" stroke-width="1.1"/>
<line x1="136.50" y1="446.30" x2="147.70" y2="446.30" stroke="#1a1a1a" stroke-width="1.1"/>
<line x1="50" y1="461.0" x2="165" y2="461.0" stroke="#c42848" stroke-width="1.3" stroke-dasharray="1,1"/>
<circle cx="72.50" cy="457.00" r="2.15" fill="#f4e21a" stroke="#1a1a1a" stroke-width="0.9"/>
<circle cx="68.00" cy="463.30" r="2.15" fill="#7ed03a" stroke="#1a1a1a" stroke-width="0.9"/>
<circle cx="67.50" cy="471.30" r="2.15" fill="#777777" stroke="#1a1a1a" stroke-width="0.9"/>
<circle cx="77.00" cy="468.00" r="2.15" fill="#7a3fd8" stroke="#1a1a1a" stroke-width="0.9"/>
<circle cx="107.00" cy="469.30" r="2.15" fill="#f4e21a" stroke="#1a1a1a" stroke-width="0.9"/>
<circle cx="107.00" cy="483.80" r="2.15" fill="#e03ad8" stroke="#1a1a1a" stroke-width="0.9"/>
<circle cx="107.00" cy="490.50" r="2.15" fill="#7a3fd8" stroke="#1a1a1a" stroke-width="0.9"/>
<circle cx="142.00" cy="435.80" r="2.15" fill="#2a3fe0" stroke="#1a1a1a" stroke-width="0.9"/>
<circle cx="142.00" cy="441.30" r="2.15" fill="#7ed03a" stroke="#1a1a1a" stroke-width="0.9"/>
<circle cx="142.00" cy="455.50" r="2.15" fill="#f4e21a" stroke="#1a1a1a" stroke-width="0.9"/>
<circle cx="132.50" cy="458.80" r="2.15" fill="#e0241e" stroke="#1a1a1a" stroke-width="0.9"/>
<circle cx="151.30" cy="452.50" r="2.15" fill="#a8602a" stroke="#1a1a1a" stroke-width="0.9"/>
<circle cx="151.30" cy="458.80" r="2.15" fill="#7a3fd8" stroke="#1a1a1a" stroke-width="0.9"/>
<text x="72.50" y="422.00" font-size="7.2" text-anchor="middle" fill="#231f20" textLength="6.4" lengthAdjust="spacingAndGlyphs">ns</text>
<text x="107.50" y="422.00" font-size="7.2" text-anchor="middle" fill="#231f20" textLength="6.4" lengthAdjust="spacingAndGlyphs">ns</text>
<text x="142.10" y="424.50" font-size="8" text-anchor="middle" fill="#231f20">*</text>
<text x="107.30" y="409.50" font-size="9.8" text-anchor="middle" fill="#1a1a1a" textLength="70.5" lengthAdjust="spacingAndGlyphs">pIGF1R(pY1131)</text>
<line x1="72.00" y1="411.30" x2="142.50" y2="411.30" stroke="#333" stroke-width="0.8"/>
<line x1="72.30" y1="514.50" x2="72.30" y2="517.30" stroke="#1a1a1a" stroke-width="0.8"/>
<line x1="107.30" y1="514.50" x2="107.30" y2="517.30" stroke="#1a1a1a" stroke-width="0.8"/>
<line x1="142.30" y1="514.50" x2="142.30" y2="517.30" stroke="#1a1a1a" stroke-width="0.8"/>
<text x="75.30" y="525.00" font-size="8.4" text-anchor="end" fill="#231f20" textLength="43.5" lengthAdjust="spacingAndGlyphs" transform="rotate(-45 75.30 525.00)">+ monocyte</text>
<text x="110.30" y="525.00" font-size="8.4" text-anchor="end" fill="#231f20" textLength="72.5" lengthAdjust="spacingAndGlyphs" transform="rotate(-45 110.30 525.00)">+ GM-CSF - derived</text>
<text x="117.40" y="531.80" font-size="8.4" text-anchor="end" fill="#231f20" textLength="47.5" lengthAdjust="spacingAndGlyphs" transform="rotate(-45 117.40 531.80)">macrophage</text>
<text x="145.30" y="525.00" font-size="8.4" text-anchor="end" fill="#231f20" textLength="67" lengthAdjust="spacingAndGlyphs" transform="rotate(-45 145.30 525.00)">+ M-CSF - derived</text>
<text x="152.20" y="531.80" font-size="8.4" text-anchor="end" fill="#231f20" textLength="47.5" lengthAdjust="spacingAndGlyphs" transform="rotate(-45 152.20 531.80)">macrophage</text>
<line x1="223.50" y1="414.50" x2="223.50" y2="515.50" stroke="#1a1a1a" stroke-width="1"/>
<line x1="223.00" y1="515.00" x2="340.00" y2="515.00" stroke="#1a1a1a" stroke-width="1.1"/>
<line x1="219.90" y1="417.50" x2="223.50" y2="417.50" stroke="#1a1a1a" stroke-width="1"/>
<text x="217.50" y="420.50" font-size="8.4" text-anchor="end" fill="#231f20" textLength="10.7" lengthAdjust="spacingAndGlyphs">1.2</text>
<line x1="219.90" y1="433.75" x2="223.50" y2="433.75" stroke="#1a1a1a" stroke-width="1"/>
<text x="217.50" y="436.75" font-size="8.4" text-anchor="end" fill="#231f20" textLength="10.7" lengthAdjust="spacingAndGlyphs">1.0</text>
<line x1="219.90" y1="450.00" x2="223.50" y2="450.00" stroke="#1a1a1a" stroke-width="1"/>
<text x="217.50" y="453.00" font-size="8.4" text-anchor="end" fill="#231f20" textLength="10.7" lengthAdjust="spacingAndGlyphs">0.8</text>
<line x1="219.90" y1="466.25" x2="223.50" y2="466.25" stroke="#1a1a1a" stroke-width="1"/>
<text x="217.50" y="469.25" font-size="8.4" text-anchor="end" fill="#231f20" textLength="10.7" lengthAdjust="spacingAndGlyphs">0.6</text>
<line x1="219.90" y1="482.50" x2="223.50" y2="482.50" stroke="#1a1a1a" stroke-width="1"/>
<text x="217.50" y="485.50" font-size="8.4" text-anchor="end" fill="#231f20" textLength="10.7" lengthAdjust="spacingAndGlyphs">0.4</text>
<line x1="219.90" y1="498.75" x2="223.50" y2="498.75" stroke="#1a1a1a" stroke-width="1"/>
<text x="217.50" y="501.75" font-size="8.4" text-anchor="end" fill="#231f20" textLength="10.7" lengthAdjust="spacingAndGlyphs">0.2</text>
<line x1="219.90" y1="515.00" x2="223.50" y2="515.00" stroke="#1a1a1a" stroke-width="1"/>
<text x="217.50" y="518.00" font-size="8.4" text-anchor="end" fill="#231f20" textLength="10.7" lengthAdjust="spacingAndGlyphs">0.0</text>
<text x="191.00" y="465.40" font-size="9.0" text-anchor="middle" fill="#231f20" textLength="45" lengthAdjust="spacingAndGlyphs" transform="rotate(-90 191.00 465.40)"># of T-ALL cells</text>
<text x="201.60" y="465.00" font-size="9.0" text-anchor="middle" fill="#231f20" textLength="80" lengthAdjust="spacingAndGlyphs" transform="rotate(-90 201.60 465.00)">(normalized to 'DMSO')</text>
<rect x="235.3" y="434.2" width="22.40" height="80.80" fill="#fff" stroke="#1a1a1a" stroke-width="1.1"/>
<rect x="270.4" y="457.6" width="22.40" height="57.40" fill="#fff" stroke="#1a1a1a" stroke-width="1.1"/>
<rect x="305.7" y="477.7" width="22.40" height="37.30" fill="#fff" stroke="#1a1a1a" stroke-width="1.1"/>
<line x1="281.60" y1="457.60" x2="281.60" y2="452.30" stroke="#1a1a1a" stroke-width="1.1"/>
<line x1="276.20" y1="452.30" x2="287.00" y2="452.30" stroke="#1a1a1a" stroke-width="1.1"/>
<line x1="316.90" y1="477.70" x2="316.90" y2="460.40" stroke="#1a1a1a" stroke-width="1.1"/>
<line x1="311.10" y1="460.40" x2="322.70" y2="460.40" stroke="#1a1a1a" stroke-width="1.1"/>
<line x1="224" y1="434.0" x2="337" y2="434.0" stroke="#c42848" stroke-width="1.3" stroke-dasharray="1,1"/>
<circle cx="237.70" cy="434.20" r="2.15" fill="#e0241e" stroke="#1a1a1a" stroke-width="0.9"/>
<circle cx="243.50" cy="434.20" r="2.15" fill="#f4e21a" stroke="#1a1a1a" stroke-width="0.9"/>
<circle cx="249.40" cy="434.20" r="2.15" fill="#2a3fe0" stroke="#1a1a1a" stroke-width="0.9"/>
<circle cx="255.20" cy="434.20" r="2.15" fill="#7a3fd8" stroke="#1a1a1a" stroke-width="0.9"/>
<circle cx="276.20" cy="451.80" r="2.15" fill="#f4e21a" stroke="#1a1a1a" stroke-width="0.9"/>
<circle cx="287.20" cy="448.80" r="2.15" fill="#2a3fe0" stroke="#1a1a1a" stroke-width="0.9"/>
<circle cx="281.90" cy="457.60" r="2.15" fill="#7a3fd8" stroke="#1a1a1a" stroke-width="0.9"/>
<circle cx="281.90" cy="469.20" r="2.15" fill="#e0241e" stroke="#1a1a1a" stroke-width="0.9"/>
<circle cx="316.50" cy="443.10" r="2.15" fill="#f4e21a" stroke="#1a1a1a" stroke-width="0.9"/>
<circle cx="316.50" cy="453.90" r="2.15" fill="#7a3fd8" stroke="#1a1a1a" stroke-width="0.9"/>
<circle cx="316.50" cy="502.40" r="2.15" fill="#e0241e" stroke="#1a1a1a" stroke-width="0.9"/>
<circle cx="316.50" cy="509.30" r="2.15" fill="#2a3fe0" stroke="#1a1a1a" stroke-width="0.9"/>
<line x1="246.60" y1="427.40" x2="281.90" y2="427.40" stroke="#333" stroke-width="1.1"/>
<text x="264.20" y="426.50" font-size="8" text-anchor="middle" fill="#231f20">*</text>
<line x1="246.30" y1="515.00" x2="246.30" y2="517.60" stroke="#1a1a1a" stroke-width="0.8"/>
<line x1="281.30" y1="515.00" x2="281.30" y2="517.60" stroke="#1a1a1a" stroke-width="0.8"/>
<line x1="316.30" y1="515.00" x2="316.30" y2="517.60" stroke="#1a1a1a" stroke-width="0.8"/>
<text x="246.60" y="528.20" font-size="8.8" text-anchor="middle" fill="#231f20" textLength="24.3" lengthAdjust="spacingAndGlyphs">DMSO</text>
<text x="282.00" y="528.20" font-size="8.8" text-anchor="middle" fill="#231f20" textLength="24.5" lengthAdjust="spacingAndGlyphs">10 µM</text>
<text x="281.20" y="538.40" font-size="8.8" text-anchor="middle" fill="#231f20" textLength="32.5" lengthAdjust="spacingAndGlyphs">AG-1024</text>
<text x="316.60" y="528.20" font-size="8.8" text-anchor="middle" fill="#231f20" textLength="19.3" lengthAdjust="spacingAndGlyphs">T-ALL</text>
<line x1="246.30" y1="542.50" x2="281.80" y2="542.50" stroke="#333" stroke-width="0.9"/>
<text x="264.10" y="553.20" font-size="8.8" text-anchor="middle" fill="#231f20" textLength="65.7" lengthAdjust="spacingAndGlyphs">+ M-CSF - derived</text>
<text x="264.50" y="563.00" font-size="8.8" text-anchor="middle" fill="#231f20" textLength="45" lengthAdjust="spacingAndGlyphs">macrophage</text>
</svg></body></html>
